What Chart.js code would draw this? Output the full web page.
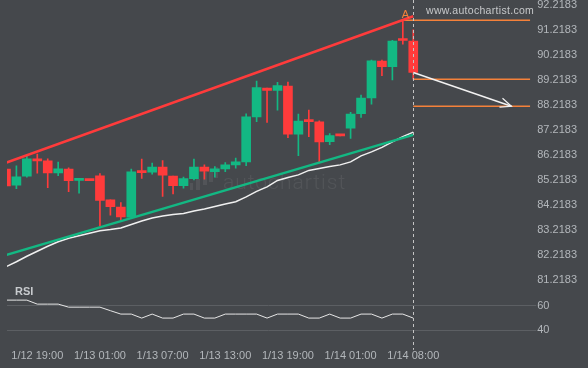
<!DOCTYPE html>
<html>
<head>
<meta charset="utf-8">
<script src="https://cdn.jsdelivr.net/npm/chart.js@4.4.1/dist/chart.umd.min.js"></script>
<style>
  html, body { margin: 0; padding: 0; background: #45484c; }
  #wrap { width: 588px; height: 368px; }
</style>
</head>
<body>
<div id="wrap"><canvas id="chart" width="588" height="368"></canvas></div>
<script>
// velas horarias (índice 0 = 1/12 16:00)
const opens  = [85.65, 85.01, 85.37, 86.04, 85.98, 85.50, 85.65, 85.20, 85.21, 85.38,
                84.42, 84.13, 83.73, 85.53, 85.53, 85.73, 85.37, 84.99, 85.27, 85.73,
                85.55, 85.66, 85.82, 85.94, 87.74, 88.89, 88.79, 88.97, 87.05, 87.56,
                87.54, 86.75, 87.00, 87.29, 87.87, 88.49, 89.97, 89.74, 90.83, 90.77];
const closes = [84.98, 85.34, 86.06, 85.98, 85.50, 85.66, 85.19, 85.22, 85.19, 84.40,
                84.15, 83.74, 85.54, 85.51, 85.73, 85.41, 84.99, 85.27, 85.73, 85.57,
                85.66, 85.82, 85.94, 87.74, 88.91, 88.79, 88.99, 87.05, 87.57, 87.55,
                86.74, 86.99, 86.98, 87.85, 88.49, 89.98, 89.74, 90.77, 90.79, 89.51];
const highs  = [85.65, 85.78, 86.18, 86.25, 86.06, 85.93, 85.70, 85.25, 85.21, 85.47,
                84.42, 84.31, 85.65, 86.05, 85.89, 85.99, 85.37, 85.33, 86.05, 85.82,
                85.75, 85.91, 86.09, 87.86, 89.17, 88.89, 89.12, 89.13, 87.85, 88.01,
                87.58, 87.07, 87.00, 87.92, 88.61, 90.01, 90.01, 90.80, 91.63, 91.21];
const lows   = [84.98, 84.87, 85.33, 85.49, 84.91, 85.39, 84.75, 84.69, 85.19, 83.38,
                83.81, 83.62, 83.73, 85.28, 85.45, 84.56, 84.66, 84.89, 85.22, 85.25,
                85.33, 85.55, 85.69, 85.79, 87.55, 87.52, 88.01, 86.91, 86.19, 86.95,
                85.93, 86.63, 86.98, 86.88, 87.72, 88.25, 89.38, 89.21, 90.64, 89.24];
// media móvil
const movingAvg = [81.75, 81.95, 82.17, 82.37, 82.57, 82.75, 82.89, 82.99, 83.09, 83.19,
                   83.24, 83.30, 83.44, 83.58, 83.70, 83.78, 83.84, 83.88, 83.98, 84.06,
                   84.16, 84.26, 84.35, 84.54, 84.76, 84.94, 85.20, 85.32, 85.42, 85.60,
                   85.68, 85.76, 85.82, 85.94, 86.18, 86.34, 86.52, 86.74, 86.95, 87.13];
// RSI
const rsiValues = [64.7, 64.7, 64.7, 61.4, 61.4, 61.4, 58.9, 58.9, 58.9, 58.9,
                   56.0, 53.2, 53.2, 49.9, 53.2, 49.9, 49.9, 53.2, 53.2, 49.9,
                   49.9, 53.2, 53.2, 53.2, 53.2, 49.9, 53.2, 53.2, 53.2, 49.9,
                   49.9, 53.2, 49.9, 49.9, 53.2, 53.2, 49.9, 53.2, 53.2, 49.9];

// líneas del canal [índice, precio]
const resistance = [[0, 85.905], [39, 91.755]];
const support    = [[0, 82.218], [39, 87.02]];
// niveles naranjas [índice inicial, precio]
const levels = [[38, 91.60], [39, 89.24], [39, 88.16]];
const forecast = [[39, 89.51], [48.4, 88.16]];

const priceTicks = [81.2183, 82.2183, 83.2183, 84.2183, 85.2183, 86.2183,
                    87.2183, 88.2183, 89.2183, 90.2183, 91.2183, 92.2183];
const rsiTicks = [40, 60];
const tickIndex = [3, 9, 15, 21, 27, 33, 39];
const tickText = ['1/12 19:00', '1/13 01:00', '1/13 07:00', '1/13 13:00',
                  '1/13 19:00', '1/14 01:00', '1/14 08:00'];

const RED = '#ff3b3b';
const GREEN = '#13b883';
const ORANGE = '#f5813a';
const TEXT = '#b3b7bb';
const FONT = 'Liberation Sans, Arial, sans-serif';
const X_MAX = 50.2;

const idx = opens.map((_, i) => i);
const candleColor = c => closes[c.dataIndex] >= opens[c.dataIndex] ? GREEN : RED;
const toPts = arr => arr.map(p => ({ x: p[0], y: p[1] }));
// sin reservar espacio extra para las etiquetas de los extremos
const noEdgePadding = ax => { ax.paddingTop = 0; ax.paddingBottom = 0; ax.paddingLeft = 0; ax.paddingRight = 0; };

function lineSet(data, color, width, order) {
    return {
        type: 'line', data: data, borderColor: color, borderWidth: width,
        pointRadius: 0, fill: false, tension: 0, order: order, yAxisID: 'y'
    };
}

const datasets = [
    lineSet(toPts(resistance), RED, 2.5, 0),
    lineSet(toPts(support), GREEN, 2.5, 0),
    lineSet(toPts(forecast), '#f2f2f2', 1.5, 0),
    lineSet(movingAvg.map((v, i) => ({ x: i, y: v })), '#f0f0f0', 1.5, 1),
    {
        type: 'bar', data: idx.map(i => ({ x: i, y: [opens[i], closes[i]] })),
        backgroundColor: candleColor, grouped: false, maxBarThickness: 9,
        barPercentage: 1, categoryPercentage: 1, minBarLength: 2, order: 2, yAxisID: 'y'
    },
    {
        type: 'bar', data: idx.map(i => ({ x: i, y: [lows[i], highs[i]] })),
        backgroundColor: candleColor, grouped: false, maxBarThickness: 1,
        barPercentage: 1, categoryPercentage: 1, order: 3, yAxisID: 'y'
    },
    {
        type: 'line', data: rsiValues.map((v, i) => ({ x: i, y: v })), yAxisID: 'yRsi',
        borderColor: '#e6e6e6', borderWidth: 1, pointRadius: 0, tension: 0, order: 0
    }
];
levels.forEach(l => {
    datasets.push(lineSet([{ x: l[0], y: l[1] }, { x: X_MAX, y: l[1] }], ORANGE, 1.5, 0));
});

// decoraciones: fondo, marca de agua, textos, línea punteada, flecha
const decor = {
    id: 'decor',
    beforeDraw(chart) {
        const ctx = chart.ctx;
        ctx.save();
        ctx.fillStyle = '#45484c';
        ctx.fillRect(0, 0, chart.width, chart.height);
        ctx.restore();
    },
    beforeDatasetsDraw(chart) {
        const ctx = chart.ctx;
        ctx.save();
        ctx.fillStyle = 'rgba(255,255,255,0.07)';
        [[190, 183, 3, 7], [196, 179, 4, 11], [203, 172, 4, 13], [209, 169, 4, 13], [215, 167, 3, 11]]
            .forEach(b => ctx.fillRect(b[0], b[1], b[2], b[3]));
        ctx.font = '300 21px Roboto';
        ctx.letterSpacing = '1px';
        ctx.textBaseline = 'middle';
        ctx.fillText('autochartist', 223, 184);
        ctx.restore();
    },
    afterDatasetsDraw(chart) {
        const ctx = chart.ctx;
        const xs = chart.scales.x, ys = chart.scales.y;
        ctx.save();
        // línea vertical punteada
        const xv = Math.round(xs.getPixelForValue(39)) + 0.5;
        ctx.strokeStyle = '#c4c4c4';
        ctx.lineWidth = 1;
        ctx.setLineDash([3, 3]);
        ctx.beginPath();
        ctx.moveTo(xv, 0);
        ctx.lineTo(xv, chart.chartArea.bottom + 4);
        ctx.stroke();
        ctx.setLineDash([]);
        // punta de flecha
        const x0 = xs.getPixelForValue(forecast[0][0]), y0 = ys.getPixelForValue(forecast[0][1]);
        const x1 = xs.getPixelForValue(forecast[1][0]), y1 = ys.getPixelForValue(forecast[1][1]);
        const ang = Math.atan2(y1 - y0, x1 - x0);
        ctx.strokeStyle = '#f2f2f2';
        ctx.lineWidth = 1.2;
        ctx.beginPath();
        ctx.moveTo(x1 - 12 * Math.cos(ang - 0.4), y1 - 12 * Math.sin(ang - 0.4));
        ctx.lineTo(x1, y1);
        ctx.lineTo(x1 - 12 * Math.cos(ang + 0.4), y1 - 12 * Math.sin(ang + 0.4));
        ctx.stroke();
        // textos
        ctx.textBaseline = 'middle';
        ctx.fillStyle = ORANGE;
        ctx.font = '11px ' + FONT;
        ctx.fillText('A', xs.getPixelForValue(38) - 1, 14.5);
        ctx.fillStyle = '#c6c8ca';
        ctx.font = '10.5px ' + FONT;
        ctx.letterSpacing = '0.3px';
        ctx.fillText('www.autochartist.com', 426, 11);
        ctx.letterSpacing = '0px';
        ctx.fillStyle = '#c8cbce';
        ctx.font = 'bold 11px ' + FONT;
        ctx.fillText('RSI', 15, 291.5);
        ctx.restore();
    }
};

const tickFont = { family: FONT, size: 11 };

new Chart(document.getElementById('chart'), {
    type: 'bar',
    data: { datasets: datasets },
    options: {
        responsive: false,
        animation: false,
        events: [],
        layout: { padding: { left: 7, right: 10, top: 0, bottom: 1 } },
        plugins: { legend: { display: false }, tooltip: { enabled: false } },
        scales: {
            x: {
                type: 'linear', min: 0.1, max: X_MAX, offset: false,
                grid: { display: false, drawTicks: false }, border: { display: false },
                afterBuildTicks: ax => { ax.ticks = tickIndex.map(v => ({ value: v })); },
                afterFit: noEdgePadding,
                ticks: {
                    color: TEXT, font: tickFont, padding: 4, autoSkip: false, maxRotation: 0,
                    callback: (v, i) => tickText[i]
                }
            },
            y: {
                type: 'linear', position: 'right', stack: 'pane', stackWeight: 286,
                min: 80.989, max: 92.406, offset: false,
                grid: { display: false, drawTicks: true, tickLength: 6 }, border: { display: false },
                afterBuildTicks: ax => { ax.ticks = priceTicks.map(v => ({ value: v })); },
                afterFit: noEdgePadding,
                ticks: { color: TEXT, font: tickFont, padding: 1, autoSkip: false, callback: v => v.toFixed(4) }
            },
            yRsi: {
                type: 'linear', position: 'right', stack: 'pane', stackWeight: 60,
                min: 27.08, max: 76.46, offset: false,
                grid: { color: '#5c5f63', lineWidth: 1, drawTicks: true, tickLength: 6 },
                border: { display: false },
                afterBuildTicks: ax => { ax.ticks = rsiTicks.map(v => ({ value: v })); },
                afterFit: noEdgePadding,
                ticks: { color: TEXT, font: tickFont, padding: 1, autoSkip: false, callback: v => String(v) }
            }
        }
    },
    plugins: [decor]
});
</script>
</body>
</html>
